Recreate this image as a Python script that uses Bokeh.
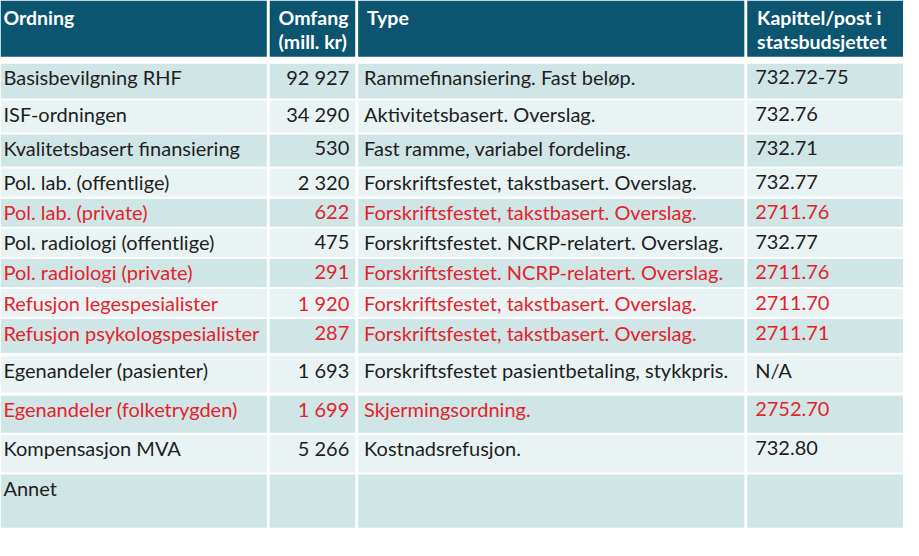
from bokeh.plotting import figure
from bokeh.models import Range1d, ColumnDataSource
from bokeh.core.properties import value
from bokeh.embed import file_html
from bokeh.resources import INLINE

# ---- data ----
ordning = ["Basisbevilgning RHF", "ISF-ordningen", "Kvalitetsbasert finansiering",
           "Pol. lab. (offentlige)", "Pol. lab. (private)", "Pol. radiologi (offentlige)",
           "Pol. radiologi (private)", "Refusjon legespesialister", "Refusjon psykologspesialister",
           "Egenandeler (pasienter)", "Egenandeler (folketrygden)", "Kompensasjon MVA", "Annet"]
omfang = [92927, 34290, 530, 2320, 622, 475, 291, 1920, 287, 1693, 1699, 5266, None]
typer = ["Rammefinansiering. Fast beløp.", "Aktivitetsbasert. Overslag.",
         "Fast ramme, variabel fordeling.", "Forskriftsfestet, takstbasert. Overslag.",
         "Forskriftsfestet, takstbasert. Overslag.", "Forskriftsfestet. NCRP-relatert. Overslag.",
         "Forskriftsfestet. NCRP-relatert. Overslag.", "Forskriftsfestet, takstbasert. Overslag.",
         "Forskriftsfestet, takstbasert. Overslag.", "Forskriftsfestet pasientbetaling, stykkpris.",
         "Skjermingsordning.", "Kostnadsrefusjon.", ""]
kapittel = ["732.72-75", "732.76", "732.71", "732.77", "2711.76", "732.77", "2711.76",
            "2711.70", "2711.71", "N/A", "2752.70", "732.80", ""]
highlighted = [False, False, False, False, True, False, True, True, True, False, True, False, False]
headers = [["Ordning"], ["Omfang", "(mill. kr)"], ["Type"], ["Kapittel/post i", "statsbudsjettet"]]

# ---- layout (reference pixel space) ----
W, H = 919, 556
row_top = [65, 103, 138, 173, 204, 235, 266, 297, 328, 366, 407, 447, 488]
row_bot = [101, 136, 171, 202, 233, 264, 295, 326, 363, 404, 445, 486, 543]
col_left = [0, 274, 364, 760]
col_right = [271, 361, 757, 919]
head_top, head_bot = 0, 58

HEAD = "#0b5570"
DARK = "#d0e5e6"
LIGHT = "#e9f3f3"
RED = "#e3232b"
BLACK = "#1e1e1e"
FONT = "Lato"
FS = "20px"
HFS = "19.5px"

p = figure(width=903, height=540, output_backend="svg", toolbar_location=None,
           x_range=Range1d(0, W), y_range=Range1d(H, 0), min_border=0)
p.axis.visible = False
p.grid.visible = False
p.outline_line_color = None
p.background_fill_color = "white"
p.border_fill_color = "white"

# header cells
p.quad(left=col_left, right=col_right, top=[head_top] * 4, bottom=[head_bot] * 4,
       fill_color=HEAD, line_color=None)

# body cells
ql, qr, qt, qb, qc = [], [], [], [], []
for i in range(len(ordning)):
    for c in range(4):
        ql.append(col_left[c]); qr.append(col_right[c])
        qt.append(row_top[i]); qb.append(row_bot[i])
        qc.append(DARK if i % 2 == 0 else LIGHT)
p.quad(left=ql, right=qr, top=qt, bottom=qb, fill_color=qc, line_color=None)

# header texts
hx = [3, 283, 373, 770]
htx, hty, htt = [], [], []
for c, lines in enumerate(headers):
    for k, t in enumerate(lines):
        htx.append(hx[c]); hty.append(17 + 25 * k); htt.append(t)
p.text(x=htx, y=hty, text=htt, text_color="white", text_font=value(FONT),
       text_font_style="bold", text_font_size=HFS, text_baseline="middle", text_align="left")

def fmt(v):
    return "" if v is None else f"{v:,}".replace(",", " ")

ty = [t + 14 for t in row_top]
colors = [RED if h else BLACK for h in highlighted]

src = ColumnDataSource(dict(y=ty, ordning=ordning, omfang=[fmt(v) for v in omfang],
                            typer=typer, kapittel=kapittel, color=colors))
common = dict(y="y", text_color="color", text_font=value(FONT), text_font_size=FS,
              text_baseline="middle", source=src)
p.text(x=3, text="ordning", text_align="left", **common)
p.text(x=355, text="omfang", text_align="right", **common)
p.text(x=370, text="typer", text_align="left", **common)
p.text(x=768, text="kapittel", text_align="left", **common)

open("out.html", "w").write(file_html(p, INLINE))
